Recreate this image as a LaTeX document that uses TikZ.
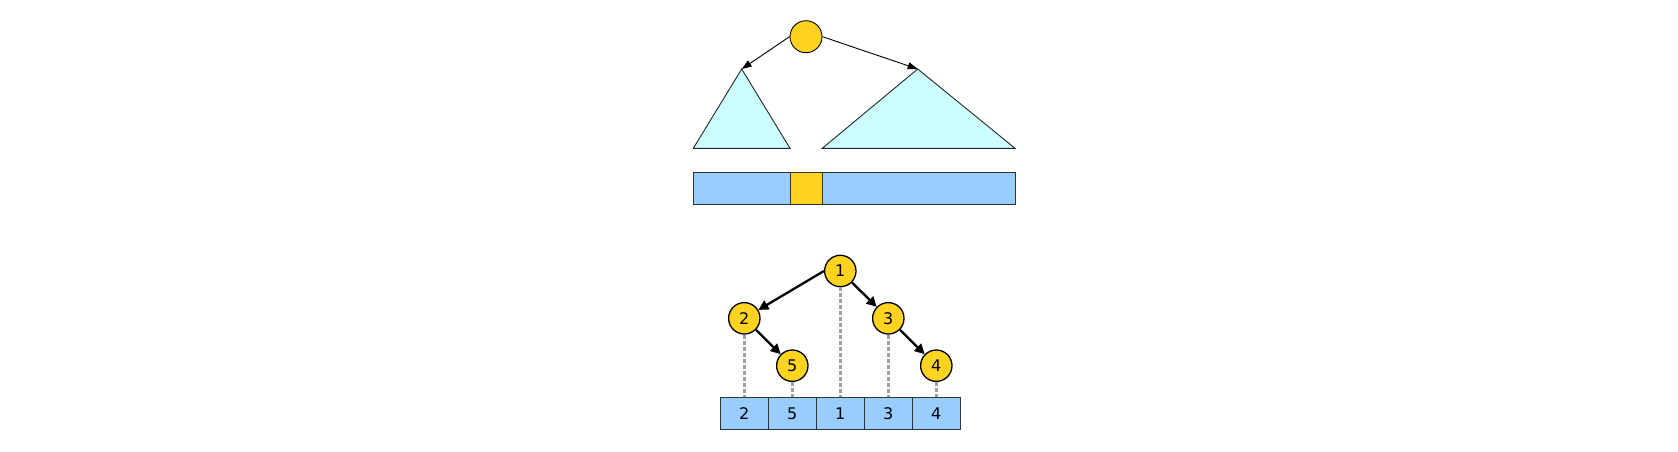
\documentclass[tikz,border=0pt]{standalone}
\usepackage{fontspec}
\setmainfont{DejaVu Sans}
\usetikzlibrary{arrows.meta}
\definecolor{keyyellow}{HTML}{FFD320}
\definecolor{subcyan}{HTML}{CCFFFF}
\definecolor{cellblue}{HTML}{99CCFF}
\definecolor{linkgray}{HTML}{A0A0A0}

\tikzset{
  key/.style={circle, draw=black, line width=1.3pt, fill=keyyellow, minimum size=31.4pt, inner sep=0pt, font=\fontsize{16}{16}\selectfont},
  cell/.style={rectangle, draw=black!80, line width=1.2pt, fill=cellblue, minimum width=48pt, minimum height=32pt, inner sep=0pt, font=\fontsize{16}{16}\selectfont},
  band/.style={rectangle, draw=black!80, line width=1pt, minimum height=31.7pt, inner sep=0pt},
  subtree/.style={draw=black!85, line width=0.9pt, fill=subcyan, line join=miter},
  thinarrow/.style={-{Triangle[length=10pt,width=7pt]}, line width=0.9pt},
  thickarrow/.style={-{Triangle[length=10pt,width=10pt]}, line width=2.3pt},
  link/.style={linkgray, line width=2.5pt, dash pattern=on 4pt off 2pt}
}

\begin{document}
\begin{tikzpicture}[x=1pt,y=-1pt]
    \useasboundingbox (0,0) rectangle (1678,452);

    % upper picture: root, two subtrees and the array
    \node[key, minimum size=32pt, line width=0.9pt] (root) at (806,36.7) {};
    \coordinate (lefttop) at (741.7,69);
    \coordinate (righttop) at (917.7,69);
    \draw[subtree] (693.3,148.3) to (lefttop) to (790,148.3) to cycle;
    \draw[subtree] (822.3,148.3) to (righttop) to (1015,148.3) to cycle;
    \draw[thinarrow] (root.west) to (lefttop);
    \draw[thinarrow] (root.east) to (righttop);

    \node[band, fill=cellblue, minimum width=96.7pt] (bandleft) at (741.65,188.15) {};
    \node[band, fill=cellblue, minimum width=192.7pt] (bandright) at (918.65,188.15) {};
    \node[band, fill=keyyellow, minimum width=32.3pt] (bandmid) at (806.15,188.15) {};

    % lower picture: the tree and its in-order array
    \node[key] (n1) at (840.3,271) {1};
    \node[key] (n2) at (744.3,318.3) {2};
    \node[key] (n3) at (888.3,318.3) {3};
    \node[key] (n5) at (792.3,365.7) {5};
    \node[key] (n4) at (936.3,365.7) {4};

    \foreach \v [count=\i] in {2,5,1,3,4}
    {
    \node[cell] (c\i) at (696.3+48*\i,413.3) {\v};
    \draw[link] (n\v.south) to (c\i.north);
    }

    \draw[thickarrow] (n1.west) to (n2);
    \draw[thickarrow] (n1) to (n3);
    \draw[thickarrow] (n2) to (n5);
    \draw[thickarrow] (n3) to (n4);
\end{tikzpicture}
\end{document}
